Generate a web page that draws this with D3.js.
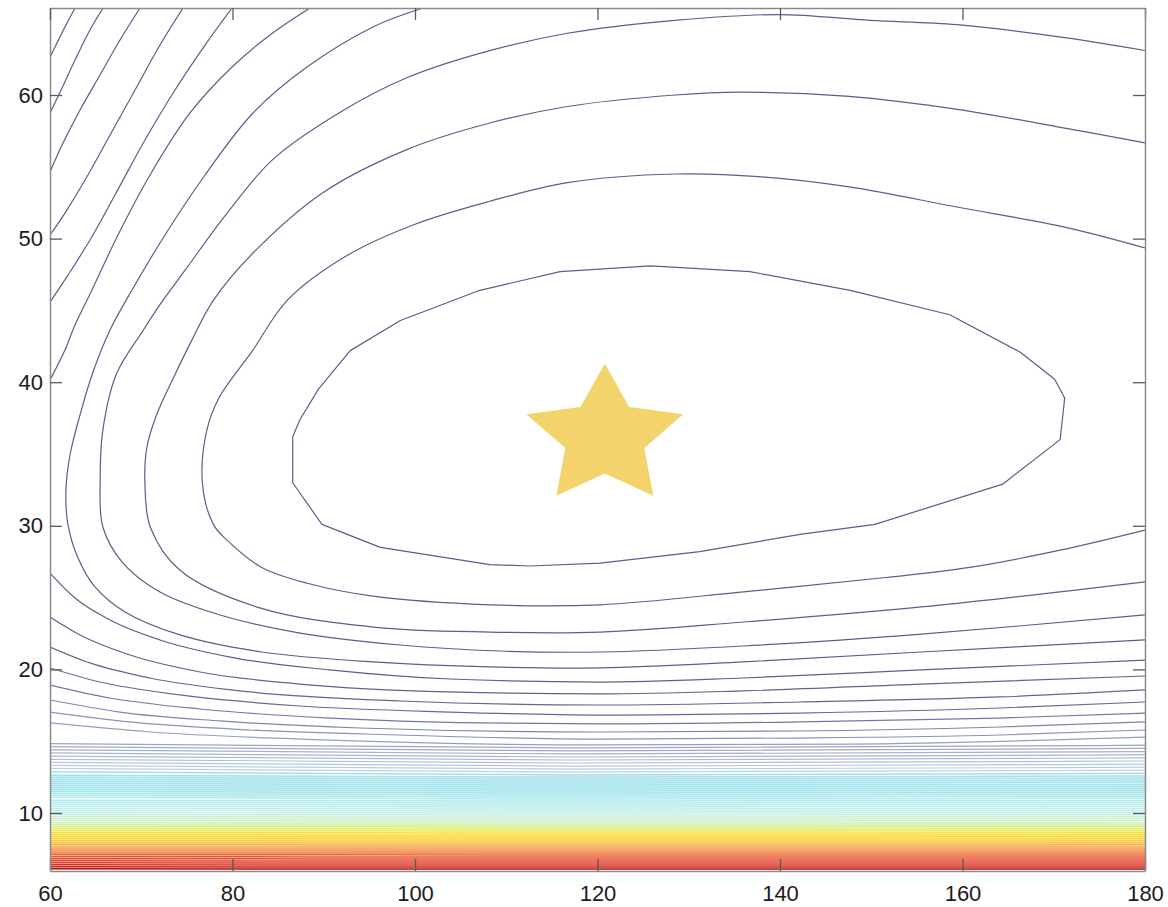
<!DOCTYPE html>
<html>
<head>
<meta charset="utf-8">
<script src="https://cdn.jsdelivr.net/npm/d3@7"></script>
<style>
  body { margin: 0; background: #fff; }
  .tick text { font-family: "Liberation Sans", Arial, sans-serif; font-size: 22px; fill: #1c1c1c; }
  .contour { fill: none; stroke-linejoin: round; }
</style>
</head>
<body>
<script>

// ---- data ----
var xTicks = [60, 80, 100, 120, 140, 160, 180];
var yTicks = [10, 20, 30, 40, 50, 60];
var xRange = [60, 180];
var yRange = [5.96, 66.06];

// minimum marker
var starPoint = [120.8, 36.2];

// innermost closed contour
var innerRing = [[86.6,36.2],[86.6,33.0],[89.8,30.1],[96.2,28.5],[108.2,27.3],[112.6,27.2],[120.3,27.4],[131.2,28.2],
  [142.2,29.4],[150.4,30.1],[164.4,32.9],[170.7,36.0],[171.2,38.9],[170.1,40.2],[166.3,42.1],[158.6,44.7],
  [147.7,46.4],[136.7,47.7],[125.8,48.1],[115.9,47.7],[107.1,46.4],[98.4,44.3],[92.9,42.2],[89.4,39.5],
  [87.4,37.4],[86.6,36.2]];

// contours open to the right (enter and leave at x = 180)
var uShapes = [
  [[180,49.35],[171.2,50.8],[159.4,52.2],[147.6,53.6],[138.0,54.3],[128.5,54.5],[116.7,53.9],[108.2,52.6],
   [100.0,51.0],[92.5,48.8],[86.0,45.7],[82.2,42.2],[78.6,39.0],[77.2,36.7],[76.7,33.0],[77.9,30.1],[79.4,29.0],
   [83.2,27.1],[88.2,26.0],[95.4,25.1],[108.2,24.5],[120.3,24.5],[136.0,25.4],[151.6,26.4],[160.8,27.1],
   [170.7,28.3],[180,29.7]],
  [[180,56.66],[171.2,57.7],[159.4,59.0],[147.6,59.9],[135.6,60.2],[128.5,60.0],[116.7,59.2],[108.2,58.05],
   [99.1,56.2],[89.9,53.2],[82.25,49.0],[77.9,45.7],[75.6,43.0],[73.6,40.4],[71.6,37.6],[70.6,35.4],[70.4,33.0],
   [71.0,29.9],[74.25,26.9],[83.0,24.28],[95.4,22.95],[108.2,22.6],[120.3,22.6],[136.0,23.3],[155.5,24.35],[180,26.1]],
  [[180,63.1],[171.2,64.0],[159.4,64.9],[149.9,65.2],[139.9,65.6],[128.5,65.2],[116.7,64.3],[107.1,62.9],
   [99.1,61.2],[91.8,58.8],[84.4,55.5],[79.2,51.6],[74.8,47.8],[72.05,45.4],[70.2,43.6],[67.3,40.6],[65.8,36.7],
   [65.5,33.2],[65.8,29.9],[68.0,27.4],[72.05,25.39],[78.63,23.79],[87.4,22.53],[98.36,21.7],[109.3,21.28],
   [120.3,21.21],[136.0,21.63],[155.5,22.46],[180,23.79]],
  [[100.88,66.06],[95.4,64.74],[88.16,61.95],[82.25,58.75],[76.99,54.43],[72.6,50.25],[68.99,46.42],[66.58,43.64],
   [64.71,40.71],[63.29,37.72],[62.19,34.93],[61.75,32.49],[61.97,30.06],[63.07,27.76],[64.93,25.74],[68.22,24.0],
   [74.25,22.4],[83.23,21.21],[95.4,20.52],[108.22,20.17],[120.27,20.1],[135.95,20.52],[155.45,21.21],[180,22.05]]
];

// upper-left pieces cut by the top and left edges
var cornerArcs = [
  [[88.49,66.06],[84.11,64.18],[79.95,61.95],[75.34,58.75],[70.96,54.43],[67.45,50.25],[64.6,46.42],[62.74,43.98],[61.64,42.24],[60,40.15]],
  [[79.95,66.06],[76.99,63.48],[73.7,60.35],[70.41,56.87],[67.12,53.04],[64.38,49.9],[61.97,47.46],[60,45.58]],
  [[74.58,66.06],[72.05,63.48],[69.32,60.35],[66.58,57.21],[63.84,54.08],[61.64,51.78],[60,50.25]],
  [[69.86,66.06],[67.67,63.83],[65.48,61.39],[63.29,58.96],[61.32,56.52],[60,54.64]],
  [[65.81,66.06],[64.38,64.53],[62.74,62.44],[61.32,60.49],[60,58.75]],
  [[62.74,66.06],[61.64,64.74],[60.55,63.34],[60,62.65]]
];

// lower pieces entering at x = 60
var lowerArcs = [
  [[60,26.71],[62.74,24.97],[66.58,23.44],[72.05,22.05],[79.73,20.86],[90.68,19.96],[103.84,19.33],[120.27,19.12],[135.95,19.4],[155.45,19.96],[180,20.65]],
  [[60,23.65],[63.29,22.4],[68.77,21.0],[76.44,19.82],[87.4,18.98],[103.84,18.43],[120.27,18.29],[135.95,18.5],[155.45,18.98],[180,19.54]],
  [[60,21.56],[64.38,20.45],[70.96,19.4],[81.92,18.43],[98.36,17.8],[120.27,17.52],[142.19,17.73],[164.11,18.08],[180,18.57]],
  [[60,20.1],[65.48,19.12],[74.25,18.22],[87.4,17.45],[103.84,17.03],[120.27,16.82],[142.19,16.96],[164.11,17.31],[180,17.73]],
  [[60,18.91],[66.58,18.01],[76.44,17.24],[90.68,16.61],[107.12,16.27],[120.27,16.2],[142.19,16.34],[164.11,16.61],[180,16.96]],
  [[60,17.87],[67.67,17.03],[78.63,16.41],[93.97,15.92],[120.27,15.64],[142.19,15.71],[164.11,15.99],[180,16.34]],
  [[60,17.03],[68.77,16.34],[81.92,15.78],[98.36,15.43],[120.27,15.15],[142.19,15.22],[164.11,15.43],[180,15.78]],
  [[60,16.27],[70.96,15.64],[87.4,15.15],[120.27,14.74],[147.67,14.8],[180,15.29]]
];

// dense, nearly flat levels near the bottom: y at x = 60, 118, 180
var bandX = [60, 118, 180];
var bandLeft = [14.83,14.62,14.40,14.18,13.96,13.74,13.52,13.31,13.10,12.88,
  12.63,12.49,12.35,12.21,12.07,11.93,11.79,11.65,11.51,11.37,11.23,11.09,
  10.89,10.75,10.61,10.47,10.33,10.19,10.05,9.91,9.77,9.63,9.49,
  9.32,9.18,9.05,8.91,8.77,8.63,8.49,8.35,8.21,8.07,7.93,7.79,
  7.64,7.50,7.36,7.22,7.09,6.95,6.81,6.67,6.53,6.39,6.25,6.11];
var bandMid = [14.53,14.32,14.11,13.90,13.69,13.48,13.27,13.06,12.86,12.65,
  12.51,12.37,12.23,12.09,11.95,11.81,11.67,11.53,11.39,11.25,11.11,10.97,
  10.84,10.70,10.56,10.42,10.28,10.14,10.00,9.86,9.72,9.58,9.44,
  9.30,9.16,9.03,8.89,8.75,8.61,8.47,8.33,8.19,8.05,7.91,7.77,
  7.63,7.49,7.35,7.21,7.08,6.94,6.80,6.66,6.52,6.38,6.24,6.10];
var bandRight = [14.72,14.50,14.28,14.06,13.84,13.62,13.40,13.19,12.98,12.76,
  12.57,12.43,12.29,12.15,12.01,11.87,11.73,11.59,11.45,11.31,11.17,11.03,
  10.87,10.73,10.59,10.45,10.31,10.17,10.03,9.89,9.75,9.61,9.47,
  9.31,9.17,9.04,8.90,8.76,8.62,8.48,8.34,8.20,8.06,7.92,7.78,
  7.63,7.49,7.35,7.21,7.08,6.94,6.80,6.66,6.52,6.38,6.24,6.10];

// ---- chart ----
var margin = {top: 8, right: 23, bottom: 36, left: 50},
    width = 1168 - margin.left - margin.right,
    height = 907 - margin.top - margin.bottom;

var svg = d3.select("body")
  .append("svg")
    .attr("width", width + margin.left + margin.right)
    .attr("height", height + margin.top + margin.bottom)
  .append("g")
    .attr("transform", "translate(" + margin.left + "," + margin.top + ")");

var x = d3.scaleLinear().domain(xRange).range([0, width]);
var y = d3.scaleLinear().domain(yRange).range([height, 0]);

// colour by level height (jet-like, washed out)
var color = d3.scaleLinear()
  .domain([6.05, 6.2, 6.4, 6.8, 7.1, 7.4, 7.8, 8.0, 8.5, 8.8, 9.1, 9.4, 10.0, 10.9, 11.5, 12.5, 12.8, 13.6, 14.6, 15.5, 17, 20])
  .range(["#9c0c0c","#c41c12","#e0321f","#e8482c","#ee6630","#f28a36","#f5ac3a","#f7c832","#f8dc24","#ecea50",
          "#d2ef94","#ccf1c0","#c2eeea","#b0eaec","#9ce2ea","#9ee2ea","#b8d6e2","#b0bcd6","#9aa2c6","#8088b2",
          "#65658f","#5d5d8a"])
  .clamp(true);

svg.append("clipPath").attr("id", "plot")
  .append("rect").attr("width", width).attr("height", height);

var plot = svg.append("g").attr("clip-path", "url(#plot)");

var line = d3.line()
  .x(function(d) { return x(d[0]); })
  .y(function(d) { return y(d[1]); });

var round = d3.line()
  .x(function(d) { return x(d[0]); })
  .y(function(d) { return y(d[1]); })
  .curve(d3.curveCatmullRom.alpha(0.5));

var smooth = d3.line()
  .x(function(d) { return x(d[0]); })
  .y(function(d) { return y(d[1]); })
  .curve(d3.curveMonotoneX);

function minY(d) { return d3.min(d, function(p) { return p[1]; }); }

// band levels (drawn first, bottom layer)
var bandLines = bandMid.map(function(m, i) {
  return [[bandX[0], bandLeft[i]], [bandX[1], m], [bandX[2], bandRight[i]]];
});

plot.selectAll(".band")
  .data(bandLines)
  .enter().append("path")
    .attr("class", "contour band")
    .attr("d", smooth)
    .style("stroke", function(d) { return color(d[1][1]); })
    .style("stroke-width", function(d) { return d[1][1] < 12.7 ? 1.5 : 1.2; });

plot.selectAll(".lower")
  .data(lowerArcs)
  .enter().append("path")
    .attr("class", "contour lower")
    .attr("d", smooth)
    .style("stroke", function(d) { return color(minY(d)); })
    .style("stroke-width", 1.2);

plot.selectAll(".upper")
  .data(uShapes.concat(cornerArcs))
  .enter().append("path")
    .attr("class", "contour upper")
    .attr("d", round)
    .style("stroke", function(d) { return color(minY(d)); })
    .style("stroke-width", 1.2);

plot.append("path")
  .datum(innerRing)
  .attr("class", "contour ring")
  .attr("d", line)
  .style("stroke", color(minY(innerRing)))
  .style("stroke-width", 1.2);

// star at the minimum
var starOuter = [82.5, 73], starInner = [41.5, 36.7];
var starPts = d3.range(10).map(function(i) {
  var a = -Math.PI / 2 + i * Math.PI / 5;
  var r = i % 2 ? starInner : starOuter;
  return [Math.cos(a) * r[0], Math.sin(a) * r[1]];
});
svg.append("path")
  .attr("transform", "translate(" + x(starPoint[0]) + "," + y(starPoint[1]) + ")")
  .attr("d", "M" + starPts.join("L") + "Z")
  .style("fill", "#f3d36c");

// axes: ticks inside on all four sides
var tickLen = 12;
svg.append("g")
    .attr("class", "x axis")
    .attr("transform", "translate(0," + height + ")")
    .call(d3.axisBottom(x).tickValues(xTicks).tickSizeInner(-tickLen).tickSizeOuter(0).tickPadding(14));
svg.append("g")
    .attr("class", "y axis")
    .call(d3.axisLeft(y).tickValues(yTicks).tickSizeInner(-tickLen).tickSizeOuter(0).tickPadding(7));
svg.append("g")
    .attr("class", "x2 axis")
    .call(d3.axisTop(x).tickValues(xTicks).tickSizeInner(-tickLen).tickSizeOuter(0).tickFormat(""));
svg.append("g")
    .attr("class", "y2 axis")
    .attr("transform", "translate(" + width + ",0)")
    .call(d3.axisRight(y).tickValues(yTicks).tickSizeInner(-tickLen).tickSizeOuter(0).tickFormat(""));

svg.selectAll(".axis .domain").style("stroke", "#8a8a8a").style("stroke-width", 1.5);
svg.selectAll(".axis .tick line").style("stroke", "#5a5a5a").style("stroke-width", 1.3);

</script>
</body>
</html>
